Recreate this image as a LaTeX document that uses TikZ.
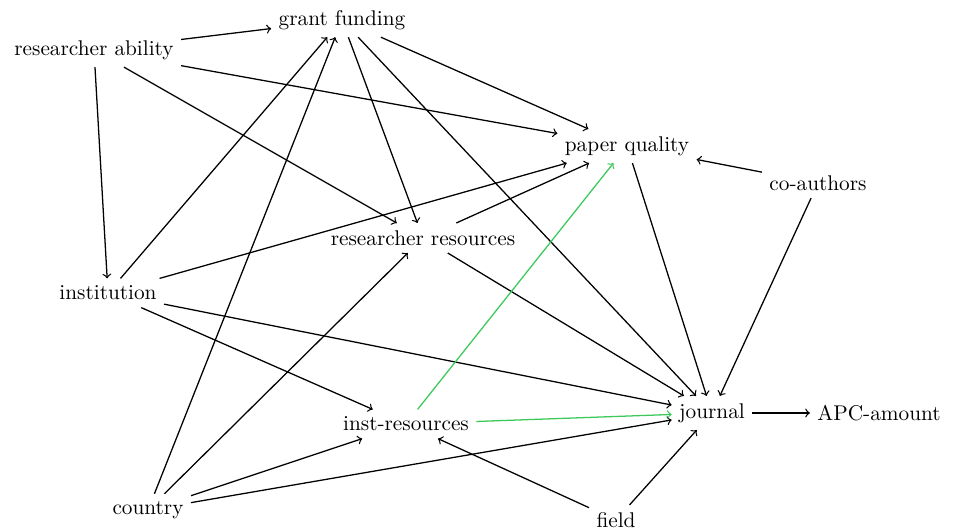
\documentclass[tikz,border=0pt]{standalone}
\usepackage{amsmath}
\usepackage{tikz}
\usepackage[dvipsnames]{xcolor}

\definecolor{pathgreen}{RGB}{60,200,90}

\begin{document}
\begin{tikzpicture}[x=0.47pt, y=-0.47pt,
		var/.style={inner sep=3.33pt},
		dep/.style={->, semithick, black},
		med/.style={->, semithick, pathgreen}]
		\useasboundingbox (0,0) rectangle (956,531);

		% variables
		\node[var] (grant) at (342,20) {grant funding};
		\node[var] (ability) at (94,50) {researcher ability};
		\node[var] (quality) at (627,146) {paper quality};
		\node[var] (coauth) at (818,183) {co-authors};
		\node[var] (resres) at (423,238) {researcher resources};
		\node[var] (inst) at (108,293) {institution};
		\node[var] (instres) at (406,424) {inst-resources};
		\node[var] (country) at (148,510) {country};
		\node[var] (journal) at (712,413) {journal};
		\node[var] (apc) at (879,413) {APC-amount};
		\node[var] (field) at (616,520) {field};

		% researcher ability
		\draw[dep] (ability) -- (grant);
		\draw[dep] (ability) -- (quality);
		\draw[dep] (ability) -- (resres);
		\draw[dep] (ability) -- (inst);

		% grant funding
		\draw[dep] (grant) -- (quality);
		\draw[dep] (grant) -- (resres);
		\draw[dep] (grant) -- (journal);

		% institution
		\draw[dep] (inst) -- (grant);
		\draw[dep] (inst) -- (quality);
		\draw[dep] (inst) -- (instres);
		\draw[dep] (inst) -- (journal);

		% country
		\draw[dep] (country) -- (grant);
		\draw[dep] (country) -- (resres);
		\draw[dep] (country) -- (instres);
		\draw[dep] (country) -- (journal);

		% resources
		\draw[dep] (resres) -- (quality);
		\draw[dep] (resres) -- (journal);
		\draw[med] (instres) -- (quality);
		\draw[med] (instres) -- (journal);

		% rest
		\draw[dep] (coauth) -- (quality);
		\draw[dep] (coauth) -- (journal);
		\draw[dep] (quality) -- (journal);
		\draw[dep] (field) -- (instres);
		\draw[dep] (field) -- (journal);
		\draw[dep] (journal) -- (apc);
	\end{tikzpicture}
\end{document}
